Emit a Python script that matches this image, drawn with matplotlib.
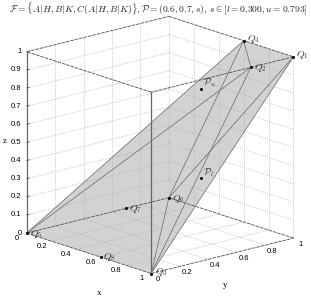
import matplotlib
matplotlib.use('Agg')
import matplotlib.pyplot as plt
from mpl_toolkits.mplot3d import proj3d
from mpl_toolkits.mplot3d.art3d import Poly3DCollection

plt.rcParams['mathtext.fontset'] = 'cm'
plt.rcParams['font.family'] = 'Liberation Sans'

# vertices of the region
Q1 = (1, 1, 1)
Q2 = (1, 0.7, 1)
Q3 = (1, 0, 0)
Q4 = (0.6, 1, 1)
Q5 = (0, 0, 0)
Q6 = (0, 1, 0)
Q7 = (0, 0.7, 0)
Q8 = (0.6, 0, 0)
P_l = (0.6, 0.7, 0.3)
P_u = (0.6, 0.7, 0.793)

region = [Q5, Q3, Q1, Q4]
segments = [(Q4, Q2), (Q4, Q6), (Q1, Q6), (Q1, Q3), (Q2, Q3), (Q2, Q5), (Q4, Q5), (Q6, Q3)]

xy_ticks = [0, 0.2, 0.4, 0.6, 0.8, 1]
z_ticks = [0, 0.1, 0.2, 0.3, 0.4, 0.5, 0.6, 0.7, 0.8, 0.9, 1]

# name, point, label shift in pixels
labels = [('Q_1', Q1, 3, 2), ('Q_2', Q2, 3, -1), ('Q_3', Q3, 4, 2), ('Q_4', Q4, 3, 2),
          ('Q_5', Q5, 3, -1), ('Q_6', Q6, 3, -1), ('Q_7', Q7, 3, -1), ('Q_8', Q8, 2, 0),
          (r'\mathcal{P}_l', P_l, 2, 6), (r'\mathcal{P}_u', P_u, 2, 6)]

fig = plt.figure(figsize=(3.11, 3.01), dpi=100)
ax = fig.add_axes([6 / 311, 2 / 301, 300 / 311, 300 / 301], projection='3d', proj_type='ortho')
ax.view_init(elev=16.5, azim=-41.2)
ax.set_box_aspect((1, 1, 1), zoom=1.06)
ax.set_xlim(0, 1)
ax.set_ylim(0, 1)
ax.set_zlim(0, 1)
ax.set_axis_off()
ax.computed_zorder = False


def line(a, b, **kw):
    ax.plot([a[0], b[0]], [a[1], b[1]], [a[2], b[2]], **kw)


def label(p, s, dx, dy, **kw):
    # plain 2D annotation at the projected point, shifted in pixels
    x2, y2, _ = proj3d.proj_transform(p[0], p[1], p[2], ax.get_proj())
    ax.annotate(s, (x2, y2), xytext=(dx, dy), textcoords='offset pixels', annotation_clip=False, **kw)


ax.add_collection3d(Poly3DCollection([region], facecolor='#d2d2d2', edgecolor='none', zorder=1))

grid = dict(color='#adadad', lw=0.55, ls=':', zorder=2)
for v in xy_ticks[1:-1]:
    line((v, 0, 0), (v, 1, 0), **grid)
    line((0, v, 0), (1, v, 0), **grid)
    line((0, v, 0), (0, v, 1), **grid)
    line((v, 1, 0), (v, 1, 1), **grid)
for v in z_ticks[1:-1]:
    line((0, 0, v), (0, 1, v), **grid)
    line((0, 1, v), (1, 1, v), **grid)
line((0, 1, 0), (0, 1, 1), **grid)
line((1, 1, 0), (1, 1, 1), **grid)

# box edges
edge = dict(color='#5a5a5a', lw=0.65, ls=(0, (4, 1)), zorder=3)
for a, b in [((0, 0, 1), (0, 1, 1)), ((0, 1, 1), (1, 1, 1)), ((1, 1, 1), (1, 0, 1)), ((1, 0, 1), (0, 0, 1)),
             ((0, 0, 0), (1, 0, 0)), ((1, 0, 0), (1, 1, 0)), ((1, 1, 0), (0, 1, 0)), ((0, 1, 0), (0, 0, 0))]:
    line(a, b, **edge)
line((0, 0, 0), (0, 0, 1), color='#666666', lw=0.9, zorder=3)
line((1, 0, 0), (1, 0, 1), color='#666666', lw=0.9, zorder=3)

for a, b in segments:
    line(a, b, color='#707070', lw=0.55, zorder=4)

# points and their names
for name, p, dx, dy in labels:
    ax.plot([p[0]], [p[1]], [p[2]], 'o', color='black', ms=2.2, mew=0, zorder=5)
    label(p, '$%s$' % name, dx, dy, fontsize=7, color='#333333', ha='left', va='center', zorder=6)

# tick labels
for v in xy_ticks:
    label((v, 0, 0), '%g' % v, -10, -5, fontsize=5.5, ha='center', va='center')
    label((1, v, 0), '%g' % v, 7, -6, fontsize=5.5, ha='center', va='center')
for v in z_ticks:
    line((0, 0, v), (0, 0.02, v), color='#666666', lw=0.6, zorder=3)
    label((0, 0, v), '%g' % v, -5, 0, fontsize=5.5, ha='right', va='center')

fig.text(99 / 311, 1 - 293 / 301, 'x', fontsize=6.5, family='Liberation Serif', ha='center', va='center')
fig.text(225 / 311, 1 - 285 / 301, 'y', fontsize=6.5, family='Liberation Serif', ha='center', va='center')
fig.text(5 / 311, 1 - 141 / 301, 'z', fontsize=6.5, family='Liberation Serif', ha='center', va='center')

fig.text(158 / 311, 1 - 9 / 301,
         r'$\mathcal{F}=\{A|H,B|K,C(A|H,B|K)\},\mathcal{P}=(0.6,0.7,s),\,s\in[l=0.300,u=0.793]$',
         fontsize=6.9, color='#222222', ha='center', va='center')

fig.savefig('out.png', dpi=100)
